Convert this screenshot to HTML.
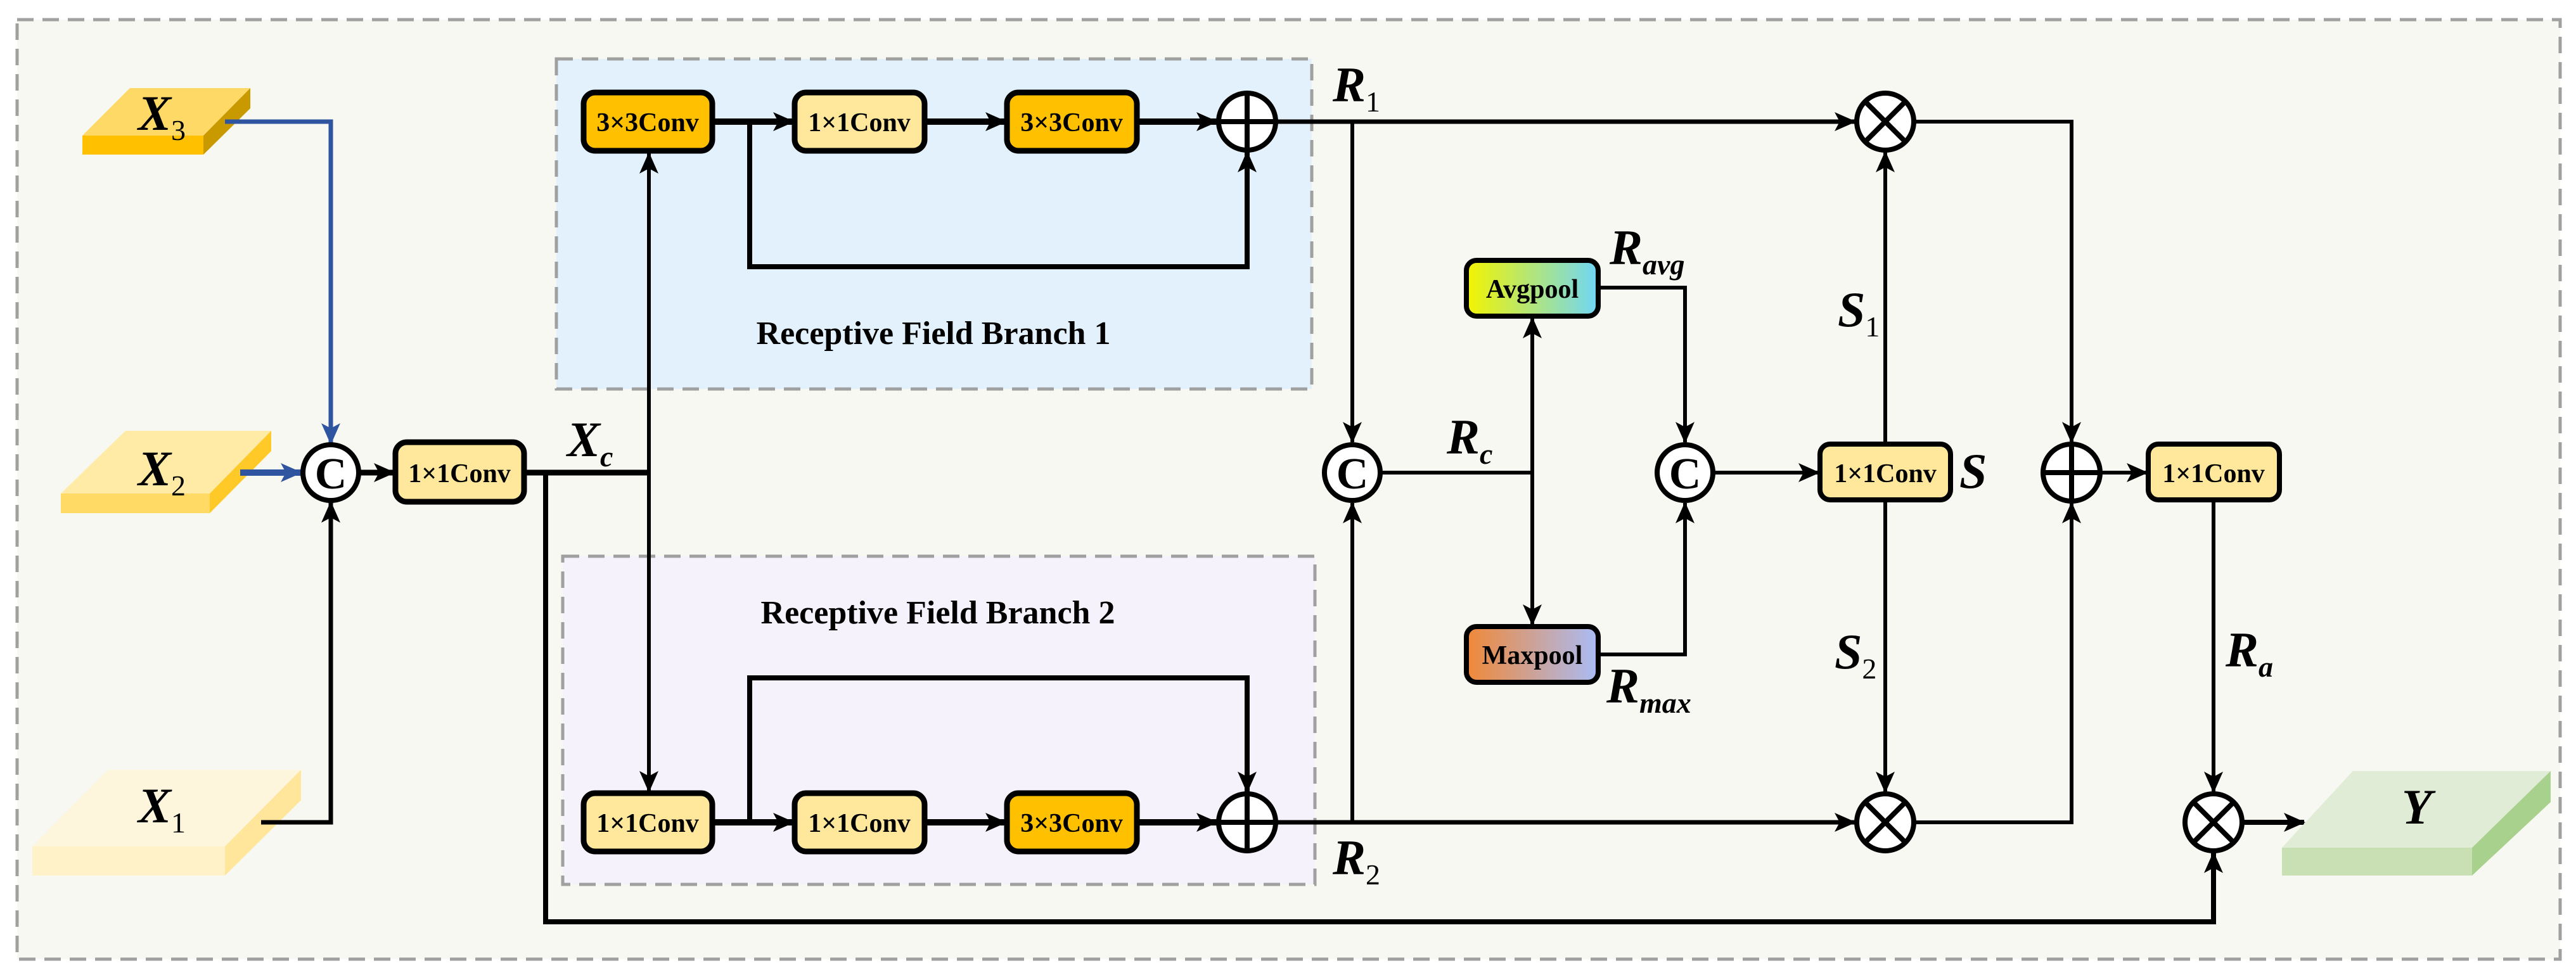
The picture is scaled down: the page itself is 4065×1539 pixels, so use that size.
<!DOCTYPE html>
<html><head><meta charset="utf-8"><style>
html,body{margin:0;padding:0;background:#fff}
svg{display:block}
text{font-family:"Liberation Serif",serif}
.lb{font-weight:bold;font-style:italic;font-size:78px}
.sb{font-weight:normal;font-style:normal;font-size:46px}
.si{font-weight:bold;font-style:italic;font-size:46px}
.bx{font-weight:bold;font-size:42px;text-anchor:middle}
</style></head><body>
<svg width="4065" height="1539" viewBox="0 0 4065 1539" xmlns="http://www.w3.org/2000/svg">
<defs>
<marker id="a" markerUnits="userSpaceOnUse" markerWidth="34" markerHeight="30" refX="32" refY="15" orient="auto"><path d="M0,0 L34,15 L0,30 L8,15 Z" fill="#000"/></marker>
<marker id="b" markerUnits="userSpaceOnUse" markerWidth="34" markerHeight="30" refX="32" refY="15" orient="auto"><path d="M0,0 L34,15 L0,30 L8,15 Z" fill="#2f55a0"/></marker>
<linearGradient id="ga" x1="0" x2="1" y1="0" y2="0"><stop offset="0" stop-color="#f4f400"/><stop offset="1" stop-color="#6fd6f6"/></linearGradient>
<linearGradient id="gm" x1="0" x2="1" y1="0" y2="0"><stop offset="0" stop-color="#f08838"/><stop offset="1" stop-color="#a9bcf6"/></linearGradient>
</defs>
<rect x="27" y="31" width="4013" height="1483" fill="#f6f8f1" stroke="#a0a0a0" stroke-width="5" stroke-dasharray="26,14"/>
<rect x="878" y="93" width="1192" height="521" fill="#e2f1fc" stroke="#a0a0a0" stroke-width="5" stroke-dasharray="26,14"/>
<rect x="888" y="878" width="1187" height="518" fill="#f6f2fc" stroke="#a0a0a0" stroke-width="5" stroke-dasharray="26,14"/>
<text x="1473" y="543" font-size="52" font-weight="bold" text-anchor="middle">Receptive Field Branch 1</text>
<text x="1480" y="984" font-size="52" font-weight="bold" text-anchor="middle">Receptive Field Branch 2</text>

<polygon points="130,214 205,139 395,139 321,214" fill="#ffd966"/>
<rect x="130" y="214" width="191" height="30" fill="#ffc000"/>
<polygon points="321,214 395,139 395,171 321,244" fill="#c99a00"/>
<text x="218" y="205" class="lb">X<tspan class="sb" dy="16">3</tspan></text>
<polygon points="96,779 198,680 428,680 331,779" fill="#ffeaa6"/>
<rect x="96" y="779" width="235" height="31" fill="#ffdb66"/>
<polygon points="331,779 428,680 428,712 331,810" fill="#ffc928"/>
<text x="218" y="766" class="lb">X<tspan class="sb" dy="16">2</tspan></text>
<polygon points="51,1336 171,1215 475,1215 355,1336" fill="#fdf6dc"/>
<rect x="51" y="1336" width="304" height="46" fill="#fff1c8"/>
<polygon points="355,1336 475,1215 475,1263 355,1382" fill="#ffe69a"/>
<text x="218" y="1298" class="lb">X<tspan class="sb" dy="16">1</tspan></text>

<g fill="none" stroke-linejoin="miter">
<path d="M355,192 H522 V700" stroke="#2f55a0" stroke-width="7" marker-end="url(#b)"/>
<path d="M379,746 H475" stroke="#2f55a0" stroke-width="10" marker-end="url(#b)"/>
<g stroke="#000">
<path d="M412,1298 H522 V793" stroke-width="7" marker-end="url(#a)"/>
<path d="M567,746 H622" stroke-width="9" marker-end="url(#a)"/>
<path d="M827,746 H1024" stroke-width="9"/>
<path d="M1024,746 V242" stroke-width="6" marker-end="url(#a)"/>
<path d="M1024,746 V1249" stroke-width="6" marker-end="url(#a)"/>
<path d="M861,746 V1455 H3493 V1346" stroke-width="8" marker-end="url(#a)"/>
<path d="M1124,192 H1252" stroke-width="10" marker-end="url(#a)"/>
<path d="M1459,192 H1587" stroke-width="10" marker-end="url(#a)"/>
<path d="M1794,192 H1920" stroke-width="10" marker-end="url(#a)"/>
<path d="M1183,192 V421 H1968 V240" stroke-width="8" marker-end="url(#a)"/>
<path d="M1124,1298 H1252" stroke-width="10" marker-end="url(#a)"/>
<path d="M1459,1298 H1587" stroke-width="10" marker-end="url(#a)"/>
<path d="M1794,1298 H1920" stroke-width="10" marker-end="url(#a)"/>
<path d="M1183,1298 V1070 H1968 V1250" stroke-width="8" marker-end="url(#a)"/>
<path d="M2014,192 H2927" stroke-width="7" marker-end="url(#a)"/>
<path d="M2014,1298 H2927" stroke-width="7" marker-end="url(#a)"/>
<path d="M2134,192 V698" stroke-width="6" marker-end="url(#a)"/>
<path d="M2134,1298 V794" stroke-width="6" marker-end="url(#a)"/>
<path d="M2180,746 H2418" stroke-width="6"/>
<path d="M2418,746 V502" stroke-width="6" marker-end="url(#a)"/>
<path d="M2418,746 V986" stroke-width="6" marker-end="url(#a)"/>
<path d="M2522,454 H2659 V698" stroke-width="6" marker-end="url(#a)"/>
<path d="M2522,1033 H2659 V794" stroke-width="6" marker-end="url(#a)"/>
<path d="M2705,746 H2870" stroke-width="6" marker-end="url(#a)"/>
<path d="M2975,699 V240" stroke-width="6" marker-end="url(#a)"/>
<path d="M2975,790 V1250" stroke-width="6" marker-end="url(#a)"/>
<path d="M3021,192 H3269 V698" stroke-width="6" marker-end="url(#a)"/>
<path d="M3021,1298 H3269 V794" stroke-width="6" marker-end="url(#a)"/>
<path d="M3315,746 H3388" stroke-width="6" marker-end="url(#a)"/>
<path d="M3493,790 V1250" stroke-width="6" marker-end="url(#a)"/>
<path d="M3539,1298 H3636" stroke-width="8" marker-end="url(#a)"/>
</g></g>

<g stroke="#000" stroke-width="9">
<rect x="921" y="146" width="203" height="92" rx="18" fill="#ffc000"/>
<rect x="1254" y="146" width="205" height="92" rx="18" fill="#ffe89c"/>
<rect x="1589" y="146" width="205" height="92" rx="18" fill="#ffc000"/>
<rect x="921" y="1252" width="203" height="92" rx="18" fill="#ffe89c"/>
<rect x="1254" y="1252" width="205" height="92" rx="18" fill="#ffe89c"/>
<rect x="1589" y="1252" width="205" height="92" rx="18" fill="#ffc000"/>
<rect x="624" y="698" width="203" height="94" rx="18" fill="#ffe89c"/>
<rect x="2872" y="701" width="206" height="88" rx="16" fill="#ffe89c" stroke-width="8"/>
<rect x="3390" y="701" width="207" height="88" rx="16" fill="#ffe89c" stroke-width="8"/>
<rect x="2314" y="411" width="208" height="88" rx="16" fill="url(#ga)" stroke-width="8"/>
<rect x="2314" y="989" width="208" height="88" rx="16" fill="url(#gm)" stroke-width="8"/>
</g>
<text x="1022" y="207" class="bx">3×3Conv</text>
<text x="1356" y="207" class="bx">1×1Conv</text>
<text x="1691" y="207" class="bx">3×3Conv</text>
<text x="1022" y="1313" class="bx">1×1Conv</text>
<text x="1356" y="1313" class="bx">1×1Conv</text>
<text x="1691" y="1313" class="bx">3×3Conv</text>
<text x="725" y="761" class="bx">1×1Conv</text>
<text x="2975" y="761" class="bx">1×1Conv</text>
<text x="3493" y="761" class="bx">1×1Conv</text>
<text x="2418" y="470" class="bx">Avgpool</text>
<text x="2418" y="1048" class="bx">Maxpool</text>

<g stroke="#000" stroke-width="8" fill="#fff">
<circle cx="522" cy="746" r="44"/>
<circle cx="2134" cy="746" r="44"/>
<circle cx="2659" cy="746" r="44"/>
<circle cx="1968" cy="192" r="45"/><path d="M1923,192 H2013 M1968,147 V237"/>
<circle cx="1968" cy="1298" r="45"/><path d="M1923,1298 H2013 M1968,1253 V1343"/>
<circle cx="3269" cy="746" r="45"/><path d="M3224,746 H3314 M3269,701 V791"/>
<circle cx="2975" cy="192" r="45"/><path d="M2943,160 L3007,224 M3007,160 L2943,224"/>
<circle cx="2975" cy="1298" r="45"/><path d="M2943,1266 L3007,1330 M3007,1266 L2943,1330"/>
<circle cx="3493" cy="1298" r="45"/><path d="M3461,1266 L3525,1330 M3525,1266 L3461,1330"/>
</g>
<g font-size="70" font-weight="bold" text-anchor="middle">
<text x="522" y="771">C</text><text x="2134" y="771">C</text><text x="2659" y="771">C</text>
</g>

<polygon points="3601,1338 3713,1217 4025,1217 3901,1338" fill="#e0ecd6"/>
<rect x="3601" y="1338" width="300" height="44" fill="#c9e0b5"/>
<polygon points="3901,1338 4025,1217 4025,1266 3901,1382" fill="#a9d18e"/>
<text x="3790" y="1300" class="lb">Y</text>

<text x="895" y="720" class="lb">X<tspan class="si" dy="16">c</tspan></text>
<text x="2103" y="160" class="lb">R<tspan class="sb" dy="16">1</tspan></text>
<text x="2103" y="1380" class="lb">R<tspan class="sb" dy="16">2</tspan></text>
<text x="2283" y="716" class="lb">R<tspan class="si" dy="16">c</tspan></text>
<text x="2540" y="417" class="lb">R<tspan class="si" dy="16">avg</tspan></text>
<text x="2535" y="1109" class="lb">R<tspan class="si" dy="16">max</tspan></text>
<text x="2900" y="515" class="lb">S<tspan class="sb" dy="16">1</tspan></text>
<text x="2895" y="1055" class="lb">S<tspan class="sb" dy="16">2</tspan></text>
<text x="3092" y="770" class="lb">S</text>
<text x="3512" y="1052" class="lb">R<tspan class="si" dy="16">a</tspan></text>
</svg>
</body></html>
